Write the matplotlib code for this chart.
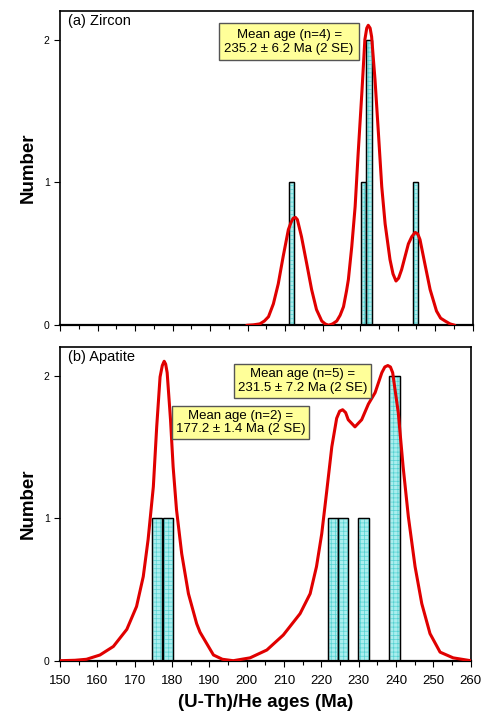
import numpy as np
import matplotlib
matplotlib.use("Agg")
import matplotlib.pyplot as plt
from matplotlib.ticker import MultipleLocator

plt.rcParams['font.family'] = ['Liberation Sans', 'DejaVu Sans']
plt.rcParams['hatch.linewidth'] = 0.5

# Zircon histogram (bin left edge, width, count)
zr_left = [211.1, 230.3, 231.7, 244.1]
zr_width = 1.4
zr_count = [1, 1, 2, 1]

# Zircon probability curve
zr_curve_x = [199.8, 201.5, 203.3, 204.5, 205.6, 206.9, 208.2, 209.5, 210.9, 211.6, 212.2,
              212.8, 213.3, 214.4, 215.8, 217.1, 218.4, 219.8, 220.7, 221.6, 222.7,
              223.8, 224.7, 225.6, 226.4, 226.9, 227.8, 228.7, 229.5, 230.5, 231.3,
              231.8, 232.2, 232.7, 233.1, 234.0, 234.9, 235.8, 236.7, 238.0, 238.8,
              239.6, 240.3, 241.1, 242.0, 242.9, 243.8, 244.7, 245.4, 246.0, 247.3,
              248.7, 250.4, 251.5, 252.7, 254.0, 255.3]
zr_curve_y = [0.0, 0.003, 0.01, 0.03, 0.06, 0.15, 0.29, 0.48, 0.67, 0.72, 0.75,
              0.755, 0.74, 0.62, 0.43, 0.25, 0.11, 0.03, 0.01, 0.0, 0.01,
              0.03, 0.07, 0.13, 0.24, 0.32, 0.55, 0.83, 1.20, 1.63, 2.0,
              2.08, 2.10, 2.08, 2.02, 1.72, 1.35, 0.97, 0.71, 0.46, 0.36,
              0.31, 0.33, 0.39, 0.48, 0.57, 0.62, 0.65, 0.64, 0.60, 0.43,
              0.25, 0.10, 0.05, 0.03, 0.01, 0.0]

# Apatite histogram
ap_left = [174.7, 177.5, 221.7, 224.4, 229.9, 238.2]
ap_width = 2.75
ap_count = [1, 1, 1, 1, 1, 2]

# Apatite probability curve
ap_curve_x = [150.0, 154.0, 157.1, 160.7, 164.3, 167.9, 170.5, 172.3, 173.6, 175.0, 175.9,
              176.8, 177.4, 177.9, 178.3, 178.7, 179.6, 180.3, 181.2, 182.6, 184.4,
              186.6, 187.5, 189.3, 191.1, 193.5, 196.4, 200.9, 205.4, 209.8, 214.3,
              217.0, 218.7, 220.1, 221.4, 222.8, 224.1, 224.9, 225.7, 226.5, 227.2,
              229.0, 230.8, 232.6, 234.4, 236.2, 237.0, 237.8, 238.5, 239.1, 240.6,
              241.9, 243.3, 245.1, 246.9, 249.1, 251.8, 255.3, 260.0]
ap_curve_y = [0.0, 0.003, 0.01, 0.04, 0.10, 0.22, 0.38, 0.59, 0.85, 1.22, 1.64,
              1.99, 2.07, 2.10, 2.08, 2.02, 1.69, 1.36, 1.06, 0.75, 0.47,
              0.26, 0.20, 0.12, 0.04, 0.01, 0.0, 0.02, 0.075, 0.18, 0.33,
              0.47, 0.66, 0.89, 1.18, 1.50, 1.70, 1.75, 1.76, 1.74, 1.69,
              1.64, 1.69, 1.80, 1.88, 2.02, 2.06, 2.07, 2.06, 2.02, 1.74,
              1.36, 1.01, 0.66, 0.40, 0.19, 0.06, 0.02, 0.0]

panel_labels = ['(a) Zircon', '(b) Apatite']
zr_notes = [('Mean age (n=4) =\n235.2 \u00b1 6.2 Ma (2 SE)', 211.1, 1.984)]
ap_notes = [('Mean age (n=5) =\n231.5 \u00b1 7.2 Ma (2 SE)', 215.0, 1.96),
            ('Mean age (n=2) =\n177.2 \u00b1 1.4 Ma (2 SE)', 198.4, 1.67)]

fig = plt.figure(figsize=(4.82, 7.12), dpi=100)
ax1 = fig.add_axes([60/482, 1-325.3/712, 412.5/482, 314.3/712])
ax2 = fig.add_axes([60/482, 1-660.7/712, 410.7/482, 313.7/712])

bar_face = '#aaeeee'
hatch_col = '#55d2d2'

def draw_panel(ax, left, width, count, cx, cy, label, notes, show_xlabels, pad):
    ax.bar(left, count, width=width, align='edge', color=bar_face,
           edgecolor='black', linewidth=0.9, zorder=2)
    ax.bar(left, count, width=width, align='edge', color='none',
           edgecolor=hatch_col, linewidth=0, hatch='++++', zorder=2.1)
    ax.bar(left, count, width=width, align='edge', color='none',
           edgecolor='black', linewidth=0.9, zorder=2.2)
    ax.plot(cx, cy, color='#e00000', lw=2.2, zorder=3,
            solid_capstyle='round', solid_joinstyle='round')
    ax.set_xlim(150, 260)
    ax.set_ylim(0, 2.2)
    ax.set_yticks([0, 1, 2])
    ax.xaxis.set_major_locator(MultipleLocator(10))
    ax.xaxis.set_minor_locator(MultipleLocator(5))
    ax.tick_params(axis='both', which='major', direction='out', length=4,
                   width=0.8, labelsize=7.5)
    ax.tick_params(axis='x', which='minor', direction='out', length=3, width=0.8)
    ax.tick_params(axis='x', labelsize=9.5, pad=6)
    if not show_xlabels:
        ax.tick_params(axis='x', labelbottom=False)
    for s in ['top', 'right', 'left']:
        ax.spines[s].set_linewidth(1.2)
    ax.spines['bottom'].set_linewidth(1.6)
    ax.set_ylabel('Number', fontsize=13.5, fontweight='bold', labelpad=5)
    ax.text(0.02, 0.99, label, transform=ax.transAxes, ha='left', va='top',
            fontsize=10.5)
    box = dict(boxstyle='square,pad=%s' % pad, fc='#ffff99', ec='#555555', lw=1.0)
    for txt, x, y in notes:
        ax.text(x, y, txt, ha='center', va='center', fontsize=9.5,
                linespacing=1.2, bbox=box, zorder=4)

draw_panel(ax1, zr_left, zr_width, zr_count, zr_curve_x, zr_curve_y,
           panel_labels[0], zr_notes, False, 0.42)
draw_panel(ax2, ap_left, ap_width, ap_count, ap_curve_x, ap_curve_y,
           panel_labels[1], ap_notes, True, 0.3)
ax2.set_xlabel('(U-Th)/He ages (Ma)', fontsize=13.5, fontweight='bold', labelpad=5)

fig.savefig('out.png', dpi=100)
